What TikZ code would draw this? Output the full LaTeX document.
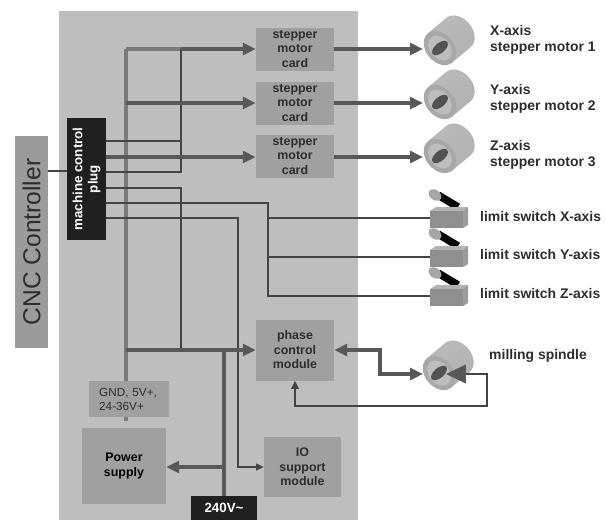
\documentclass[tikz,border=0pt]{standalone}
\usepackage{fontspec}
\setmainfont{Liberation Sans}
\usepackage{xcolor}
\usepackage{tikz}
\usetikzlibrary{arrows.meta,backgrounds}
\definecolor{PanelG} {RGB}{190,190,190}
\definecolor{CardG}  {RGB}{160,160,160}
\definecolor{PlugK}  {RGB}{32, 32, 32}
\definecolor{WireD}  {RGB}{68, 68, 68}
\definecolor{PowerD} {RGB}{88, 88, 88}
\definecolor{BusG}   {RGB}{122,122,122}
\definecolor{InkD}   {RGB}{45, 45, 45}
\tikzset{
  cardbox/.style={fill=CardG,text=InkD,inner sep=0pt,align=center,
    font=\fontsize{10.6}{12.4}\selectfont\bfseries},
  plugbox/.style={fill=PlugK,text=white,inner sep=0pt,align=center,
    font=\fontsize{11.4}{13}\selectfont\bfseries},
  axislabel/.style={anchor=west,text=InkD,align=left,inner sep=0pt,
    font=\fontsize{11.9}{13.8}\selectfont\bfseries},
  wire/.style={WireD,line width=1.2pt},
  powerline/.style={PowerD,line width=2.6pt},
  busline/.style={BusG,line width=3.4pt},
  bigtip/.style={-{Triangle[length=11pt,width=10pt]}},
  smalltip/.style={-{Triangle[length=6.5pt,width=6pt]}},
  motor/.pic={
    \begin{scope}[rotate=40]
      \shade[top color=gray!55,middle color=gray!22,bottom color=gray!60,shading angle=40]
        (0,-19) rectangle (24,19);
      \shade[top color=gray!55,middle color=gray!22,bottom color=gray!60,shading angle=40]
        (24,0) ellipse (14 and 19);
      \fill[gray!68] (0,0) ellipse (14 and 19);
      \fill[gray!52] (0,0) ellipse (10 and 14);
      \fill[black!68] (0,0) ellipse (9.5 and 5);
    \end{scope}},
  limitswitch/.pic={
    \draw[black,line width=6.5pt] (-12,-23) -- (8,-11);
    \fill[gray!70,rotate around={-35:(-15,-23)}] (-15,-23) ellipse (7 and 5);
    \fill[gray!60] (-20,-7) -- (-14,-11) -- (18,-11) -- (13,-7) -- cycle;
    \fill[gray!78] (13,-7) -- (18,-11) -- (18,7) -- (13,10) -- cycle;
    \fill[gray!88] (-20,-7) rectangle (13,10);}
}
\begin{document}
\begin{tikzpicture}[x=0.03cm,y=-0.03cm]
  \useasboundingbox (0,0) rectangle (606,520);
  % blocks
  \node[fill=CardG!105,text=InkD,rotate=90,inner sep=0pt,minimum width=6.36cm,minimum height=0.99cm,
    font=\fontsize{21}{24}\selectfont] (cnc) at (31.5,242) {CNC Controller};
  \node[plugbox,rotate=90,minimum width=3.66cm,minimum height=1.17cm] (plug) at (86.5,179)
    {machine control\\plug};
  \foreach \n/\y in {1/49,2/103,3/156}{
    \node[cardbox,minimum width=2.34cm,minimum height=1.29cm] (card\n) at (295,\y)
      {stepper\\motor\\card};}
  \node[cardbox,minimum width=2.34cm,minimum height=1.83cm] (phase) at (295,350)
    {phase\\control\\module};
  \node[cardbox,minimum width=2.31cm,minimum height=1.80cm] (io) at (302.5,467)
    {IO\\support\\module};
  \node[cardbox,anchor=west,align=left,font=\fontsize{10}{12}\selectfont,minimum width=2.40cm,
    minimum height=1.08cm,text width=1.80cm,inner xsep=0.30cm] (gnd) at (89,399)
    {GND, 5V+,\\24-36V+};
  \node[cardbox,text=black,minimum width=2.52cm,minimum height=2.28cm] (power) at (124,466)
    {Power\\supply};
  \node[plugbox,minimum width=1.98cm,minimum height=0.72cm] (mains) at (224,508) {240V\char`~};
  % motors and switches
  \foreach \n/\y in {1/48,2/102,3/156}{
    \pic at (440,\y) {motor};
    \coordinate (motor\n) at (423,\y+1);}
  \pic at (439,373) {motor};
  \foreach \n/\y in {X/218,Y/257,Z/296}{
    \pic at (450,\y) {limitswitch};
    \coordinate (sw\n) at (431,\y);}
  % labels
  \node[axislabel] (lblX) at (490,40) {X-axis\\stepper motor 1};
  \node[axislabel] (lblY) at (490,98.5) {Y-axis\\stepper motor 2};
  \node[axislabel] (lblZ) at (490,155) {Z-axis\\stepper motor 3};
  \node[axislabel] (lblSwX) at (480,217) {limit switch X-axis};
  \node[axislabel] (lblSwY) at (480,255) {limit switch Y-axis};
  \node[axislabel] (lblSwZ) at (480,294) {limit switch Z-axis};
  \node[axislabel] (lblSpindle) at (489,356) {milling spindle};
  % junctions
  \foreach \n/\y in {A/141,B/157,C/172,D/188,E/203,F/218}{
    \coordinate (plug\n) at (106,\y);}
  \coordinate (busTop) at (126,49);
  \coordinate (busEnd) at (126,421);
  \coordinate (tapA) at (181,49);
  \coordinate (tapB) at (181,350);
  \coordinate (tapSw) at (268,296);
  \coordinate (tapIO) at (238,467);
  \coordinate (tapMains) at (224,350);
  \coordinate (cncOut) at (48,171);
  \coordinate (bendA) at (380,350);
  \coordinate (bendB) at (380,374);
  \coordinate (spindleIn) at (423,374);
  \coordinate (bendC) at (487,406);
  \coordinate (bendD) at (487,374);
  \coordinate (spindleOut) at (446,374);
  \begin{scope}[on background layer]
    \fill[PanelG] (59,11) rectangle (358,520);
    \draw[busline] (busTop) -- (gnd.north -| busTop);
    \draw[busline] (gnd.south -| busEnd) -- (busEnd);
    \draw[busline] (busTop) -- (tapA);
    \draw[wire] (cncOut) -- (cncOut -| plug.south);
    \draw[wire] (plugA) -- (plugA -| tapA);
    \draw[wire] (plugC) -| (tapA);
    \draw[wire] (plugD) -| (tapB);
    \draw[wire] (plugE) -| (tapSw) -- (swZ);
    \draw[wire] (swX -| tapSw) -- (swX);
    \draw[wire] (swY -| tapSw) -- (swY);
    \draw[wire,smalltip] (plugF) -| (tapIO) -- (io.west);
    \draw[powerline] (tapMains) -- (mains.north);
    \draw[powerline,bigtip] (tapA) -- (card1.west);
    \draw[powerline,bigtip] (busTop |- card2.west) -- (card2.west);
    \draw[powerline,bigtip] (plugB) -- (plugB -| card3.west);
    \draw[powerline,bigtip] (busTop |- tapB) -- (tapB -| phase.west);
    \draw[powerline,bigtip] (tapIO -| mains.north) -- (tapIO -| power.east);
  \end{scope}
  % connectors outside the panel
  \foreach \n in {1,2,3}{
    \draw[powerline,bigtip] (card\n.east |- motor\n) -- (motor\n);}
  \draw[powerline,{Triangle[length=11pt,width=10pt]}-{Triangle[length=11pt,width=10pt]}]
    (phase.east) -- (bendA) -- (bendB) -- (spindleIn);
  \draw[wire,{Triangle[length=7pt,width=6.5pt,color=WireD]}-{Triangle[length=17pt,width=16pt,color=PowerD]}]
    (phase.south) |- (bendC) -- (bendD) -- (spindleOut);
\end{tikzpicture}
\end{document}
